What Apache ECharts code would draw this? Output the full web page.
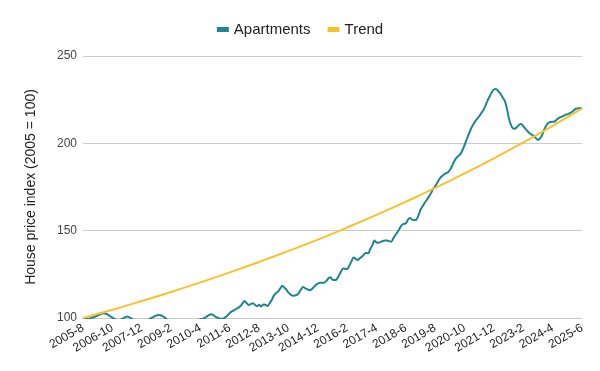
<!DOCTYPE html>
<html>
<head>
<meta charset="utf-8">
<script src="https://cdn.jsdelivr.net/npm/echarts@6/dist/echarts.min.js"></script>
<style>
html,body{margin:0;padding:0;background:#fff;}
#c{width:600px;height:371px;}
</style>
</head>
<body>
<div id="c"></div>
<script>
// Monthly categories from 2005-8 to 2025-6
var categories = [];
(function(){ var y=2005, m=8; while (y<2025 || (y===2025 && m<=6)) { categories.push(y+'-'+m); m++; if (m>12){m=1;y++;} } })();

var apartments = [
100,99.6,99.4,99.6,100.0,100.4,100.9,101.4,102.0,102.5,
102.7,102.4,101.8,101.0,100.2,99.5,99.0,98.8,99.2,99.8,
100.4,100.8,100.5,99.8,99.0,98.4,98.0,97.6,97.5,97.8,
98.3,98.9,99.6,100.2,100.9,101.4,101.7,101.6,101.0,100.2,
99.3,98.5,97.8,97.2,96.8,96.5,96.3,96.2,96.4,96.7,
97.1,97.6,98.1,98.6,98.6,99.0,99.3,99.6,100.0,100.8,
101.6,102.2,101.8,100.9,100.2,99.8,99.6,99.8,100.5,101.6,
102.9,103.8,104.4,105.1,105.8,106.7,108.2,109.8,108.6,107.4,
107.9,108.5,107.6,106.8,107.6,106.6,107.8,107.6,106.9,108.4,
110.3,112.8,114.2,115.1,116.8,118.4,117.4,116.2,114.5,113.4,
112.8,112.9,113.2,114.4,116.4,117.7,117.0,116.5,116.0,116.4,
117.6,118.9,119.7,120.2,120.2,120.2,121.2,122.6,123.3,121.9,
121.7,122.2,124.2,126.4,128.3,128.2,127.9,130.0,132.3,134.6,
134.0,133.2,134.2,135.1,136.3,137.4,137.0,139.4,141.6,144.3,
143.2,143.1,143.6,144.1,144.3,144.3,144.0,143.7,145.6,147.5,
149.2,151.2,153.2,153.9,154.2,156.3,157.2,156.3,156.1,156.3,
158.8,162.0,164.0,166.0,167.7,169.5,171.5,173.8,175.5,177.4,
179.6,181.0,182.0,182.8,183.3,184.7,187.0,189.6,191.6,192.6,
193.8,196.2,199.0,202.3,205.3,208.2,210.5,212.4,214.1,215.5,
217.4,219.1,221.7,224.6,227.0,229.3,230.8,231.1,230.0,228.6,
226.6,224.7,221.0,215.0,210.8,208.6,208.4,209.4,210.6,211.0,
209.9,208.3,207.0,205.8,205.0,204.3,203.0,201.9,202.9,204.8,
208.0,210.2,211.8,212.2,212.3,212.5,213.6,214.6,215.1,215.6,
216.3,216.6,217.2,217.8,218.8,219.8,220.0,220.2,219.6
];

// Trend values read at each labelled month (every 14 months)
var trendMonths = ['2005-8','2006-10','2007-12','2009-2','2010-4','2011-6','2012-8','2013-10','2014-12','2016-2','2017-4','2018-6','2019-8','2020-10','2021-12','2023-2','2024-4','2025-6'];
var trendValues = [100,104.7,109.7,114.9,120.4,126.1,132.1,138.4,144.9,151.8,159.0,166.6,174.5,182.8,191.4,200.5,210.0,220.0];

var trend = categories.map(function(c){ var k = trendMonths.indexOf(c); return k>=0 ? trendValues[k] : null; });

var yTicks = [100,150,200,250];

var font = "'Liberation Sans', Arial, sans-serif";
var chart = echarts.init(document.getElementById('c'), null, {renderer:'canvas'});
chart.setOption({
  animation:false,
  textStyle:{fontFamily:font},
  legend:{
    top:17, left:'center', itemGap:17, itemWidth:12, itemHeight:5,
    icon:'rect',
    textStyle:{fontSize:15, color:'#222', fontFamily:font},
    data:['Apartments','Trend']
  },
  grid:{left:83, right:18, top:56, bottom:53},
  xAxis:{
    type:'category', data:categories, boundaryGap:false,
    axisTick:{show:false},
    axisLine:{lineStyle:{color:'#c8c8c8'}},
    axisLabel:{interval:13, rotate:30, fontSize:12, color:'#222', margin:9, fontFamily:font}
  },
  yAxis:{
    type:'value', min:yTicks[0], max:yTicks[yTicks.length-1], interval:50,
    name:'House price index (2005 = 100)', nameLocation:'middle', nameGap:45,
    nameTextStyle:{fontSize:14, color:'#222', fontFamily:font},
    axisLine:{show:false}, axisTick:{show:false},
    axisLabel:{fontSize:12, color:'#444', margin:6, fontFamily:font},
    splitLine:{lineStyle:{color:'#cccccc'}}
  },
  series:[
    {name:'Apartments', type:'line', data:apartments, showSymbol:false, smooth:0.3,
     lineStyle:{width:2, color:'#1f868b'}, itemStyle:{color:'#1f868b'}, clip:true},
    {name:'Trend', type:'line', data:trend, connectNulls:true, showSymbol:false, smooth:true,
     lineStyle:{width:2, color:'#f8c22e'}, itemStyle:{color:'#f8c22e'}, clip:true}
  ]
});
</script>
</body>
</html>
